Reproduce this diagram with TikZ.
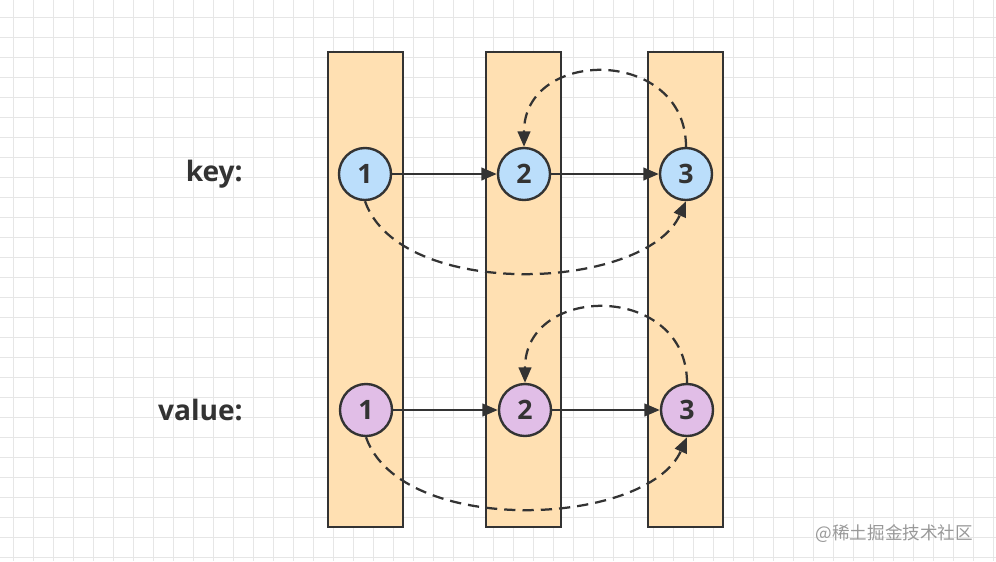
\documentclass[tikz,border=0pt]{standalone}
\usepackage{fontspec}
\setmainfont{Open Sans}
\newfontfamily\cjkfont{Noto Sans CJK SC}
\usetikzlibrary{arrows.meta,positioning}
\definecolor{slot}{HTML}{FFE0B2}
\definecolor{keyc}{HTML}{BBDEFB}
\definecolor{valc}{HTML}{E1BEE7}
\definecolor{ink}{HTML}{333333}
\definecolor{gridc}{HTML}{E6E6E6}

\begin{document}
\begin{tikzpicture}[x=0.025cm,y=-0.025cm,
    slotbox/.style={draw=ink,fill=slot,line width=1.7pt},
    cell/.style={circle,draw=ink,line width=1.7pt,minimum size=1.3cm,inner sep=0pt,font=\fontsize{19}{19}\bfseries\selectfont,text=ink},
    rowlbl/.style={font=\fontsize{20}{20}\bfseries\selectfont,text=ink,anchor=east,inner sep=0pt},
    link/.style={draw=ink,line width=1.6pt,-{Triangle[length=11pt,width=9pt]}},
    jump/.style={link,dash pattern=on 8pt off 5pt}]
        % background and grid
        \useasboundingbox (0,0) rectangle (996,561);
        \fill[white] (0,0) rectangle (996,561);
        \foreach \gx in {13,33,...,993} \draw[gridc,line width=0.5pt] (\gx,0) -- (\gx,561);
        \foreach \gy in {17,37,...,557} \draw[gridc,line width=0.5pt] (0,\gy) -- (996,\gy);
        % slots
        \draw[slotbox] (328,52) rectangle (403,527);
        \draw[slotbox] (486,52) rectangle (561,527);
        \draw[slotbox] (648,52) rectangle (723,527);
        % key row
        \node[rowlbl] (keylbl) at (243,174) {key:};
        \node[cell,fill=keyc] (k1) at (365,174) {1};
        \node[cell,fill=keyc] (k2) at (524,174) {2};
        \node[cell,fill=keyc] (k3) at (686,174) {3};
        \draw[link] (k1) -- (k2);
        \draw[link] (k2) -- (k3);
        \draw[jump] (k1.south) .. controls +(35,100) and +(-40,90) .. (k3.south);
        \draw[jump] (k3.north) .. controls +(0,-100) and +(0,-100) .. (k2.north);
        % value row
        \node[rowlbl] (vallbl) at (243,410) {value:};
        \node[cell,fill=valc] (v1) at (366,410) {1};
        \node[cell,fill=valc] (v2) at (525,410) {2};
        \node[cell,fill=valc] (v3) at (687,410) {3};
        \draw[link] (v1) -- (v2);
        \draw[link] (v2) -- (v3);
        \draw[jump] (v1.south) .. controls +(35,100) and +(-40,90) .. (v3.south);
        \draw[jump] (v3.north) .. controls +(0,-100) and +(0,-100) .. (v2.north);
        % watermark
        \node[font=\cjkfont\fontsize{12.5}{12.5}\selectfont,text=gray!80,anchor=east] (mark) at (978,534) {@稀土掘金技术社区};
      \end{tikzpicture}
\end{document}
